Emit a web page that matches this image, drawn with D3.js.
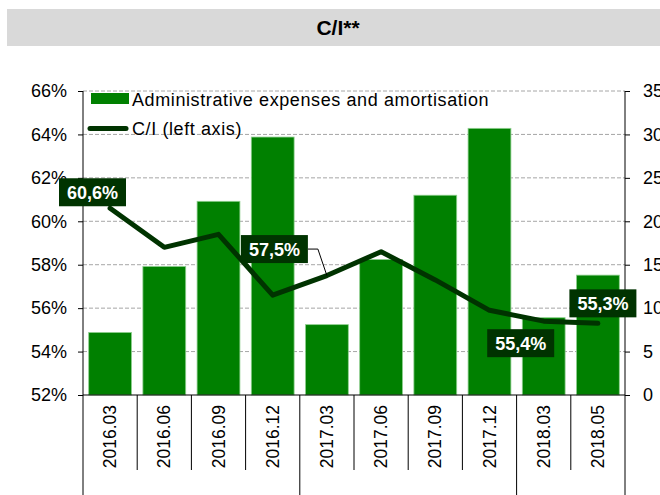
<!DOCTYPE html>
<html>
<head>
<meta charset="utf-8">
<script src="https://cdn.jsdelivr.net/npm/d3@7"></script>
<style>
  html, body { margin: 0; padding: 0; background: #fff; }
  svg { display: block; font-family: "Liberation Sans", Arial, sans-serif; }
</style>
</head>
<body>
<svg id="chart" width="660" height="495"></svg>
<script>
// ---- data ----
const categories = ["2016.03","2016.06","2016.09","2016.12","2017.03","2017.06","2017.09","2017.12","2018.03","2018.05"];
const groupBreaks = ["2017.03","2018.03"]; // categories where a new year group starts
const adminExpenses = [7.2, 14.8, 22.3, 29.7, 8.1, 15.6, 23.0, 30.7, 8.9, 13.8];
const ciRatio = [60.6, 58.8, 59.4, 56.6, 57.5, 58.6, 57.3, 55.9, 55.4, 55.3];
const leftTicks = [52, 54, 56, 58, 60, 62, 64, 66];
const rightTicks = [0, 5, 10, 15, 20, 25, 30, 35];
const labelledPoints = ["2016.03", "2017.03", "2018.03", "2018.05"];
const seriesNames = ["Administrative expenses and amortisation", "C/I (left axis)"];
const title = "C/I**";

// ---- layout / style (not data) ----
const L = 83, R = 625, T = 91, B = 395;
const barColor = "#008000", lineColor = "#003300";
const labelOffsets = { "2016.03": [-17.6, -16], "2017.03": [-52.5, -26.5], "2018.03": [-23, 22], "2018.05": [5, -20] };

const svg = d3.select("#chart");

// title bar
svg.append("rect").attr("x", 7).attr("y", 9).attr("width", 653).attr("height", 37).attr("fill", "#d9d9d9");
svg.append("text").attr("x", 338).attr("y", 35).attr("text-anchor", "middle")
  .attr("font-size", 21).attr("font-weight", "bold").attr("fill", "#000").text(title);

const x = d3.scaleBand().domain(categories).range([L, R]).paddingInner(0.21).paddingOuter(0.105);
const yL = d3.scaleLinear().domain([52, 66]).range([B, T]);
const yR = d3.scaleLinear().domain([0, 35]).range([B, T]);

// gridlines
svg.append("g").selectAll("line").data(leftTicks.filter(d => d > 52)).join("line")
  .attr("x1", L).attr("x2", R).attr("y1", d => yL(d)).attr("y2", d => yL(d))
  .attr("stroke", "#a6a6a6").attr("stroke-width", 1).attr("stroke-dasharray", "4,2");

// bars
svg.append("g").selectAll("rect").data(categories).join("rect")
  .attr("x", d => x(d)).attr("width", x.bandwidth())
  .attr("y", (d, i) => yR(adminExpenses[i])).attr("height", (d, i) => B - yR(adminExpenses[i]))
  .attr("fill", barColor).attr("stroke", "#8fcf8f").attr("stroke-width", 0.8);

// left axis
const axL = d3.axisLeft(yL).tickValues(leftTicks).tickSize(5).tickPadding(11).tickFormat(d => d + "%");
const gL = svg.append("g").attr("transform", `translate(${L},0)`).call(axL);
gL.select(".domain").remove();
gL.selectAll(".tick line").attr("stroke", "#000");
gL.selectAll(".tick text").attr("font-size", 18).attr("fill", "#000").attr("font-family", "Liberation Sans, Arial, sans-serif");
svg.append("line").attr("x1", L).attr("x2", L).attr("y1", T).attr("y2", 495).attr("stroke", "#000");

// right axis
const axR = d3.axisRight(yR).tickValues(rightTicks).tickSize(5).tickPadding(13);
const gR = svg.append("g").attr("transform", `translate(${R},0)`).call(axR);
gR.select(".domain").remove();
gR.selectAll(".tick line").attr("stroke", "#000");
gR.selectAll(".tick text").attr("font-size", 18).attr("fill", "#000").attr("font-family", "Liberation Sans, Arial, sans-serif");
svg.append("line").attr("x1", R).attr("x2", R).attr("y1", T).attr("y2", 495).attr("stroke", "#000");

// x axis baseline
svg.append("line").attr("x1", L).attr("x2", R).attr("y1", B).attr("y2", B).attr("stroke", "#000");

// category separators
const step = x.step();
const seps = categories.slice(1).map(c => ({ c, x: x(c) - (step - x.bandwidth()) / 2 }));
svg.append("g").selectAll("line").data(seps).join("line")
  .attr("x1", d => d.x).attr("x2", d => d.x).attr("y1", B)
  .attr("y2", d => groupBreaks.includes(d.c) ? 495 : 470)
  .attr("stroke", "#000");

// category labels
svg.append("g").selectAll("text").data(categories).join("text")
  .attr("transform", d => `translate(${x(d) + x.bandwidth() / 2 + 6},405) rotate(-90)`)
  .attr("text-anchor", "end").attr("font-size", 17.5).attr("fill", "#000").text(d => d);

// line
const line = d3.line().x((d, i) => x(categories[i]) + x.bandwidth() / 2).y(d => yL(d));
svg.append("path").datum(ciRatio).attr("d", line).attr("fill", "none")
  .attr("stroke", lineColor).attr("stroke-width", 5).attr("stroke-linejoin", "round").attr("stroke-linecap", "round");

// data labels
const lab = svg.append("g");
labelledPoints.forEach(c => {
  const i = categories.indexOf(c);
  const px = x(c) + x.bandwidth() / 2, py = yL(ciRatio[i]);
  const [dx, dy] = labelOffsets[c];
  const cx = px + dx, cy = py + dy;
  const w = 67, h = 28;
  if (c === "2017.03") {
    lab.append("polyline").attr("points", `${cx + w / 2},${cy} ${cx + w / 2 + 10},${cy} ${px},${py}`)
      .attr("fill", "none").attr("stroke", "#000").attr("stroke-width", 1);
  }
  lab.append("rect").attr("x", cx - w / 2).attr("y", cy - h / 2).attr("width", w).attr("height", h).attr("fill", lineColor);
  lab.append("text").attr("x", cx).attr("y", cy + 6.5).attr("text-anchor", "middle")
    .attr("font-size", 18).attr("font-weight", "bold").attr("fill", "#fff")
    .text(d3.format(".1f")(ciRatio[i]).replace(".", ",") + "%");
});

// legend
const lg = svg.append("g");
lg.append("rect").attr("x", 91).attr("y", 93).attr("width", 38).attr("height", 11).attr("fill", barColor);
lg.append("text").attr("x", 132).attr("y", 106).attr("font-size", 18).attr("letter-spacing", 0.6).attr("fill", "#000").text(seriesNames[0]);
lg.append("line").attr("x1", 90).attr("x2", 126).attr("y1", 128.5).attr("y2", 128.5)
  .attr("stroke", lineColor).attr("stroke-width", 5).attr("stroke-linecap", "round");
lg.append("text").attr("x", 132).attr("y", 135).attr("font-size", 18).attr("letter-spacing", 0.6).attr("fill", "#000").text(seriesNames[1]);
</script>
</body>
</html>
